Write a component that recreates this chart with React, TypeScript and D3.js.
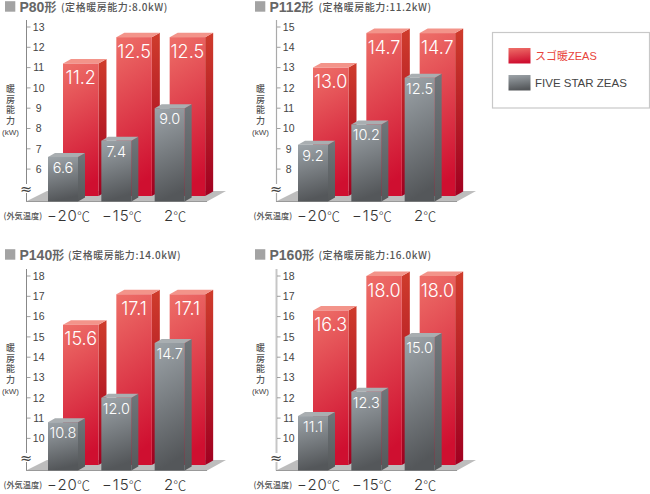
import React from 'react';
import * as d3 from 'd3';

const categories = ['−20', '−15', '2'];
const panelNames = ['P80形', 'P112形', 'P140形', 'P160形'];
const panelRatings = ['(定格暖房能力:8.0kW)', '(定格暖房能力:11.2kW)', '(定格暖房能力:14.0kW)', '(定格暖房能力:16.0kW)'];
const redValues = [[11.2, 12.5, 12.5], [13.0, 14.7, 14.7], [15.6, 17.1, 17.1], [16.3, 18.0, 18.0]];
const grayValues = [[6.6, 7.4, 9.0], [9.2, 10.2, 12.5], [10.8, 12.0, 14.7], [11.1, 12.3, 15.0]];
const tickLows = [6, 8, 10, 10];
const tickHighs = [13, 15, 18, 18];
const legendLabels = ['スゴ暖ZEAS', 'FIVE STAR ZEAS'];
const yLabel = '暖房能力';
const ratingXs = [61, 318.5, 68, 318.5];
const axisStrokes = ['#888', '#aaa', '#888', '#c6c6c6'];
const axisWidths = [1, 1.2, 1, 2];

const JP = '"Noto Sans CJK JP", sans-serif';
const LAT = 'Inter, "Liberation Sans", sans-serif';
const step = 20.3;

function Bar({ x, w, y, base, dx, dy, kind }: any) {
  const front = kind === 'red' ? 'url(#rf)' : 'url(#gf)';
  const side = kind === 'red' ? 'url(#rs)' : 'url(#gs)';
  const top = kind === 'red' ? '#f3948a' : '#a9aeb1';
  return (
    <g>
      <polygon points={`${x + w},${y} ${x + w + dx},${y - dy} ${x + w + dx},${base - dy} ${x + w},${base}`} fill={side} />
      <polygon points={`${x},${y} ${x + dx},${y - dy} ${x + w + dx},${y - dy} ${x + w},${y}`} fill={top} />
      <rect x={x} y={y} width={w} height={base - y} fill={front} />
    </g>
  );
}

function Panel({ i }: { i: number }) {
  const ox = i % 2 === 1 ? 250 : 0;
  const lower = i >= 2;
  const lo = tickLows[i];
  const hi = tickHighs[i];
  const oy = lower ? 269 : 0;
  const topTick = lower ? 276 : 27;
  const lowTick = topTick + (hi - lo) * step;
  const y = d3.scaleLinear().domain([lo, hi]).range([lowTick, topTick]);
  const ticks = d3.range(lo, hi + 1);
  const band = d3.scaleBand<string>().domain(categories).range([48 + ox, 208 + ox]);
  const bottom = 201.5 + oy;
  const axisTop = lower ? 269 : 20;
  const titleY = lower ? 259.5 : 11.5;
  const labelOff = lower ? 259 : 0;
  const name = panelNames[i];
  return (
    <g>
      <rect x={5 + ox} y={titleY - 10.3} width={10.3} height={10.5} fill="#a3a3a3" />
      <text x={19.5 + ox} y={titleY} fontFamily={`"Liberation Sans", ${JP}`} fontSize={14} fontWeight={700} fill="#666">
        {name.slice(0, -1)}<tspan fontSize={12} fontFamily={JP} fontWeight={700}>{name.slice(-1)}</tspan>
      </text>
      <text x={ratingXs[i]} y={titleY - 1} fontFamily={JP} fontSize={10} letterSpacing={0.55} fontWeight={500} fill="#555">{panelRatings[i]}</text>

      <polygon points={`${26 + ox},${bottom} ${47 + ox},${bottom - 10.5} ${226 + ox},${bottom - 10.5} ${207 + ox},${bottom}`} fill="#bdbdbd" />
      <line x1={26.5 + ox} x2={26.5 + ox} y1={axisTop} y2={bottom} stroke={axisStrokes[i]} strokeWidth={axisWidths[i]} />
      <line x1={26 + ox} x2={207 + ox} y1={bottom} y2={bottom} stroke="#999" strokeWidth={1} />

      {ticks.map(t => (
        <g key={t}>
          <line x1={27 + ox} x2={30.5 + ox} y1={y(t)} y2={y(t)} stroke="#888" strokeWidth={0.8} />
          <text x={38.7 + ox} y={y(t) + 3.7} textAnchor="middle" fontFamily={`"Liberation Sans", sans-serif`} fontSize={10.5} fill="#444">{t}</text>
        </g>
      ))}
      <rect x={24 + ox} y={184 + oy} width={5} height={9} fill="#fff" />
      <text x={26 + ox} y={193.5 + oy} textAnchor="middle" fontFamily={`"DejaVu Sans", sans-serif`} fontSize={14.5} fill="#444">≈</text>

      <text x={10.5 + ox} y={84.5 + labelOff} fontFamily={JP} fontSize={9} letterSpacing={1.4} fontWeight={500} fill="#555" style={{ writingMode: 'vertical-rl' }}>{yLabel}</text>
      <text x={10.5 + ox} y={134.5 + labelOff} textAnchor="middle" fontFamily={`"Liberation Sans", sans-serif`} fontSize={8} fill="#444">(kW)</text>

      <text x={3.5 + ox} y={219 + oy} fontFamily={JP} fontSize={8.2} fontWeight={500} fill="#555">(外気温度)</text>

      {categories.map((c, k) => (
        <Bar key={c} kind="red" x={band(c)! + 15} w={35.5} y={y(redValues[i][k])} base={196 + oy} dx={8} dy={4.5} />
      ))}
      {categories.map((c, k) => (
        <Bar key={c} kind="gray" x={band(c)!} w={30} y={y(grayValues[i][k])} base={bottom} dx={7} dy={4} />
      ))}
      {categories.map((c, k) => (
        <text key={c} x={band(c)! + 15 + 17.7} y={y(redValues[i][k]) + 20.5} textAnchor="middle" fontFamily={LAT} fontWeight={300} fontSize={18} fill="#fff">{redValues[i][k].toFixed(1)}</text>
      ))}
      {categories.map((c, k) => (
        <text key={c} x={band(c)! + 15} y={y(grayValues[i][k]) + 16} textAnchor="middle" fontFamily={LAT} fontWeight={300} fontSize={14.5} fill="#fff">{grayValues[i][k].toFixed(1)}</text>
      ))}
      {categories.map((c) => (
        <text key={c} x={band(c)! + 21} y={221 + oy} textAnchor="middle" fontFamily={LAT} fontWeight={300} fontSize={15} letterSpacing={1} fill="#333">
          {c}<tspan fontFamily={JP} fontSize={13} dx={-1}>℃</tspan>
        </text>
      ))}
    </g>
  );
}

export default function App() {
  return (
    <svg width={650} height={494} viewBox="0 0 650 494" style={{ position: 'absolute', left: 0, top: 0 }}>
      <defs>
        <linearGradient id="rf" x1="0" y1="0" x2="0.15" y2="1">
          <stop offset="0" stopColor="#ee6f68" />
          <stop offset="1" stopColor="#cf0f30" />
        </linearGradient>
        <linearGradient id="rs" x1="0" y1="0" x2="0" y2="1">
          <stop offset="0" stopColor="#cf3c2c" />
          <stop offset="1" stopColor="#a00020" />
        </linearGradient>
        <linearGradient id="gf" x1="0" y1="0" x2="0.15" y2="1">
          <stop offset="0" stopColor="#9da4a9" />
          <stop offset="1" stopColor="#54575a" />
        </linearGradient>
        <linearGradient id="gs" x1="0" y1="0" x2="0" y2="1">
          <stop offset="0" stopColor="#70767a" />
          <stop offset="1" stopColor="#55585a" />
        </linearGradient>
      </defs>
      <rect width={650} height={494} fill="#fff" />
      {panelNames.map((_, i) => <Panel key={i} i={i} />)}
      <rect x={492.5} y={32.5} width={157} height={75.5} fill="#fff" stroke="#c8c8c8" strokeWidth={1.2} />
      <rect x={508.5} y={48} width={22} height={15.5} fill="url(#rf)" />
      <rect x={508.5} y={75} width={22} height={15.5} fill="url(#gf)" />
      <text x={535} y={60} fontFamily={`"Liberation Sans", ${JP}`} fontSize={11} fill="#e8443a">{legendLabels[0]}</text>
      <text x={535} y={87} fontFamily={`"Liberation Sans", sans-serif`} fontSize={11.5} fill="#444">{legendLabels[1]}</text>
    </svg>
  );
}
